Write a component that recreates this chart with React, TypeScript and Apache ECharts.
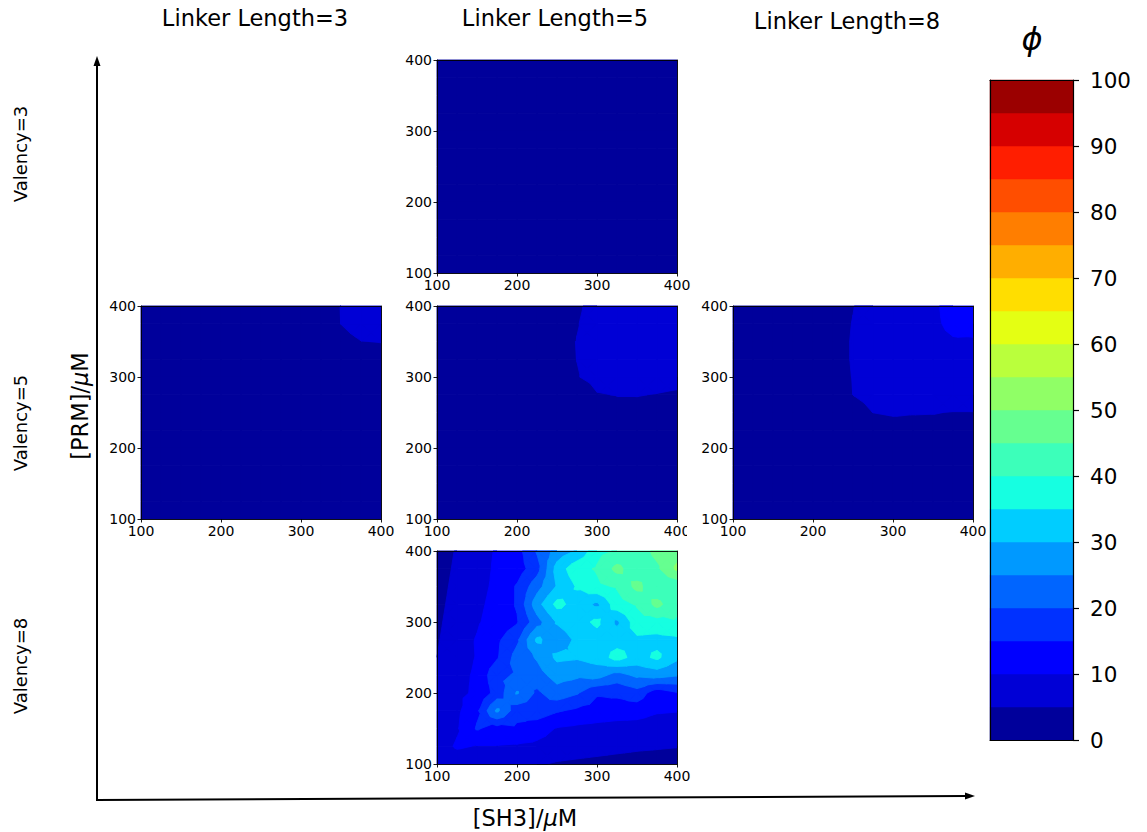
import React, { useEffect, useRef } from "react";
import * as echarts from "echarts";

// grid coordinates (µM) shared by both axes of every panel
const GRID_VALUES = [100, 125, 150, 175, 200, 225, 250, 275, 300, 325, 350, 375, 400];
// contour levels of phi
const PHI_LEVELS = [0, 5, 10, 15, 20, 25, 30, 35, 40, 45, 50, 55, 60, 65, 70, 75, 80, 85, 90, 95, 100];
const COL_TITLES = ["Linker Length=3", "Linker Length=5", "Linker Length=8"];
const ROW_TITLES = ["Valency=3", "Valency=5", "Valency=8"];

// each matrix: rows from [PRM]=400 (first) down to [PRM]=100 (last); columns [SH3]=100..400
const phiV3L5 = [
  [1.6, 1.7, 1.9, 2.0, 2.2, 2.4, 2.6, 2.8, 3.0, 3.2, 3.4, 3.6, 3.8],
  [1.5, 1.6, 1.8, 1.9, 2.1, 2.3, 2.5, 2.7, 2.9, 3.1, 3.3, 3.4, 3.6],
  [1.4, 1.5, 1.7, 1.8, 2.0, 2.2, 2.4, 2.5, 2.7, 2.9, 3.1, 3.2, 3.4],
  [1.3, 1.4, 1.6, 1.7, 1.9, 2.0, 2.2, 2.4, 2.5, 2.7, 2.9, 3.0, 3.1],
  [1.2, 1.3, 1.5, 1.6, 1.7, 1.9, 2.0, 2.2, 2.3, 2.5, 2.6, 2.8, 2.9],
  [1.1, 1.2, 1.4, 1.5, 1.6, 1.7, 1.9, 2.0, 2.1, 2.3, 2.4, 2.5, 2.6],
  [1.0, 1.1, 1.2, 1.3, 1.5, 1.6, 1.7, 1.8, 2.0, 2.1, 2.2, 2.3, 2.4],
  [0.9, 1.0, 1.1, 1.2, 1.3, 1.4, 1.6, 1.7, 1.8, 1.9, 2.0, 2.1, 2.2],
  [0.8, 0.9, 1.0, 1.1, 1.2, 1.3, 1.4, 1.5, 1.6, 1.7, 1.8, 1.9, 2.0],
  [0.7, 0.8, 0.9, 1.0, 1.1, 1.2, 1.3, 1.3, 1.4, 1.5, 1.6, 1.7, 1.7],
  [0.6, 0.7, 0.8, 0.9, 0.9, 1.0, 1.1, 1.2, 1.2, 1.3, 1.4, 1.4, 1.5],
  [0.5, 0.6, 0.7, 0.7, 0.8, 0.9, 0.9, 1.0, 1.1, 1.1, 1.2, 1.2, 1.3],
  [0.4, 0.5, 0.6, 0.6, 0.7, 0.7, 0.8, 0.8, 0.9, 0.9, 1.0, 1.0, 1.1],
];

const phiV5L3 = [
  [0.9, 1.0, 1.2, 1.4, 1.7, 2.0, 2.4, 2.9, 3.4, 4.0, 5.05, 6.2, 7.0],
  [0.8, 1.0, 1.1, 1.3, 1.6, 1.9, 2.3, 2.8, 3.3, 3.9, 5.02, 5.8, 6.4],
  [0.8, 0.9, 1.1, 1.3, 1.5, 1.8, 2.2, 2.6, 3.1, 3.6, 4.4, 4.97, 5.05],
  [0.7, 0.9, 1.0, 1.2, 1.4, 1.7, 2.0, 2.4, 2.9, 3.3, 3.9, 4.2, 4.3],
  [0.7, 0.8, 0.9, 1.1, 1.3, 1.6, 1.9, 2.2, 2.6, 3.0, 3.4, 3.7, 3.8],
  [0.6, 0.7, 0.9, 1.0, 1.2, 1.4, 1.7, 2.0, 2.3, 2.7, 3.0, 3.2, 3.3],
  [0.6, 0.7, 0.8, 0.9, 1.1, 1.3, 1.5, 1.8, 2.1, 2.4, 2.6, 2.8, 2.9],
  [0.5, 0.6, 0.7, 0.8, 1.0, 1.2, 1.4, 1.6, 1.8, 2.1, 2.3, 2.4, 2.5],
  [0.5, 0.5, 0.6, 0.7, 0.9, 1.0, 1.2, 1.4, 1.6, 1.8, 2.0, 2.1, 2.2],
  [0.4, 0.5, 0.5, 0.6, 0.8, 0.9, 1.1, 1.2, 1.4, 1.6, 1.7, 1.8, 1.9],
  [0.4, 0.4, 0.5, 0.6, 0.7, 0.8, 0.9, 1.1, 1.2, 1.3, 1.5, 1.6, 1.6],
  [0.3, 0.4, 0.4, 0.5, 0.6, 0.7, 0.8, 0.9, 1.0, 1.1, 1.2, 1.3, 1.4],
  [0.3, 0.3, 0.4, 0.4, 0.5, 0.6, 0.7, 0.8, 0.9, 1.0, 1.0, 1.1, 1.2],
];

const phiV5L5 = [
  [0.8, 1.0, 1.3, 1.6, 2.0, 2.6, 3.5, 4.7, 5.7, 6.4, 7.0, 7.5, 8.0],
  [0.7, 0.9, 1.2, 1.5, 1.9, 2.5, 3.4, 4.9, 5.8, 6.3, 6.8, 7.3, 7.6],
  [0.6, 0.8, 1.1, 1.4, 1.8, 2.4, 4.4, 5.05, 5.6, 6.1, 6.5, 6.9, 7.2],
  [0.5, 0.7, 1.0, 1.3, 1.7, 2.3, 4.4, 5.02, 5.5, 5.9, 6.2, 6.5, 6.7],
  [0.5, 0.6, 0.9, 1.2, 1.6, 2.2, 3.2, 4.9, 5.6, 5.7, 5.8, 5.6, 5.5],
  [0.4, 0.5, 0.8, 1.1, 1.4, 1.9, 2.6, 3.6, 4.9, 5.05, 5.05, 4.95, 4.8],
  [0.4, 0.5, 0.7, 1.0, 1.3, 1.7, 2.3, 3.0, 3.8, 4.5, 4.6, 4.5, 4.4],
  [0.3, 0.4, 0.6, 0.8, 1.1, 1.5, 2.0, 2.6, 3.2, 3.7, 3.9, 4.0, 4.0],
  [0.3, 0.4, 0.5, 0.7, 1.0, 1.3, 1.7, 2.2, 2.7, 3.1, 3.3, 3.4, 3.5],
  [0.2, 0.3, 0.4, 0.6, 0.8, 1.1, 1.4, 1.8, 2.2, 2.5, 2.7, 2.8, 2.9],
  [0.2, 0.3, 0.4, 0.5, 0.7, 0.9, 1.2, 1.5, 1.8, 2.0, 2.2, 2.3, 2.4],
  [0.1, 0.2, 0.3, 0.4, 0.5, 0.7, 0.9, 1.2, 1.4, 1.6, 1.7, 1.8, 1.9],
  [0.1, 0.1, 0.2, 0.3, 0.4, 0.5, 0.7, 0.9, 1.1, 1.2, 1.3, 1.4, 1.5],
];

const phiV5L8 = [
  [1.2, 1.5, 1.9, 2.4, 3.0, 3.8, 4.9, 6.5, 7.5, 8.4, 9.3, 11.5, 12.5],
  [1.1, 1.4, 1.8, 2.3, 2.9, 3.9, 5.1, 6.4, 7.3, 8.2, 9.2, 11.0, 11.6],
  [1.0, 1.3, 1.7, 2.2, 2.8, 4.0, 5.2, 6.6, 7.2, 8.0, 8.9, 9.6, 9.5],
  [0.9, 1.2, 1.6, 2.1, 2.7, 4.0, 5.2, 6.5, 7.0, 7.6, 8.2, 8.7, 9.0],
  [0.8, 1.1, 1.5, 2.0, 2.6, 3.8, 5.1, 6.3, 6.8, 7.2, 7.6, 7.9, 8.0],
  [0.7, 1.0, 1.3, 1.8, 2.4, 3.4, 5.02, 5.9, 6.2, 6.6, 6.9, 7.0, 7.0],
  [0.6, 0.9, 1.2, 1.6, 2.1, 2.8, 3.7, 5.02, 5.3, 5.15, 5.1, 4.9, 4.9],
  [0.5, 0.8, 1.1, 1.4, 1.9, 2.5, 3.1, 3.6, 3.9, 4.0, 4.1, 4.2, 4.2],
  [0.5, 0.7, 0.9, 1.2, 1.6, 2.1, 2.6, 3.0, 3.3, 3.5, 3.6, 3.7, 3.7],
  [0.4, 0.6, 0.8, 1.0, 1.3, 1.7, 2.1, 2.5, 2.8, 3.0, 3.1, 3.2, 3.2],
  [0.3, 0.5, 0.6, 0.8, 1.1, 1.4, 1.7, 2.0, 2.3, 2.5, 2.6, 2.7, 2.7],
  [0.3, 0.4, 0.5, 0.7, 0.9, 1.1, 1.4, 1.6, 1.8, 2.0, 2.1, 2.2, 2.2],
  [0.2, 0.3, 0.4, 0.5, 0.7, 0.9, 1.1, 1.3, 1.5, 1.6, 1.7, 1.8, 1.8],
];

const phiV8L5 = [
  [2.0, 5.5, 8.0, 10.5, 13.0, 20.5, 27.0, 30.5, 38.5, 40.5, 42.0, 46.5, 48.0],
  [2.5, 6.0, 8.0, 10.8, 12.5, 18.0, 32.0, 38.5, 40.5, 46.5, 41.5, 44.0, 51.0],
  [3.0, 6.5, 8.5, 11.0, 15.5, 23.0, 30.5, 35.5, 39.0, 40.5, 46.5, 41.0, 41.0],
  [3.5, 7.0, 9.0, 11.5, 15.5, 28.0, 36.5, 33.0, 29.0, 38.0, 40.5, 46.5, 41.0],
  [4.0, 7.5, 9.5, 12.0, 14.5, 23.0, 30.5, 33.0, 36.0, 29.0, 38.0, 38.0, 39.5],
  [4.5, 8.0, 10.3, 14.0, 19.0, 31.0, 27.0, 31.0, 33.0, 33.0, 34.0, 33.5, 34.0],
  [5.02, 8.5, 10.2, 14.5, 22.0, 25.5, 31.0, 30.5, 32.0, 37.0, 33.0, 36.0, 31.0],
  [5.5, 9.0, 10.5, 19.0, 20.5, 23.0, 27.0, 26.0, 27.0, 23.0, 26.0, 27.0, 25.5],
  [6.0, 9.0, 10.7, 17.0, 25.5, 19.0, 23.0, 20.5, 15.5, 16.0, 18.0, 12.0, 14.5],
  [6.5, 9.0, 14.0, 26.0, 17.0, 18.0, 15.5, 14.0, 13.0, 12.5, 12.0, 10.5, 10.2],
  [7.0, 9.5, 15.5, 13.0, 14.0, 12.0, 9.7, 9.0, 8.5, 8.0, 8.0, 7.5, 7.5],
  [8.0, 10.5, 9.8, 9.8, 9.5, 9.0, 8.0, 7.5, 7.0, 6.5, 6.0, 5.7, 5.3],
  [7.0, 7.5, 7.5, 7.0, 6.5, 5.5, 4.5, 4.0, 3.5, 3.0, 2.5, 2.0, 1.5],
];

// ---------- helpers ----------
function jet(t: number): string {
  const r = [[0, 0], [0.35, 0], [0.66, 1], [0.89, 1], [1, 0.5]];
  const g = [[0, 0], [0.125, 0], [0.375, 1], [0.64, 1], [0.91, 0], [1, 0]];
  const b = [[0, 0.5], [0.11, 1], [0.34, 1], [0.65, 0], [1, 0]];
  const q = Math.min(Math.floor(t * 256), 255) / 255;
  const seg = (pts: number[][]) => {
    for (let k = 0; k < pts.length - 1; k++) {
      if (q <= pts[k + 1][0]) {
        const f = (q - pts[k][0]) / (pts[k + 1][0] - pts[k][0]);
        return pts[k][1] + f * (pts[k + 1][1] - pts[k][1]);
      }
    }
    return pts[pts.length - 1][1];
  };
  const to = (v: number) => Math.round(v * 255);
  return `rgb(${to(seg(r))},${to(seg(g))},${to(seg(b))})`;
}

const lo0 = PHI_LEVELS[0];
const hiN = PHI_LEVELS[PHI_LEVELS.length - 1];
const BAND_COLORS = PHI_LEVELS.slice(0, -1).map((l, k) =>
  jet(((l + PHI_LEVELS[k + 1]) / 2 - lo0) / (hiN - lo0))
);

function clipAbove(poly: number[][], level: number): number[][] {
  const out: number[][] = [];
  for (let k = 0; k < poly.length; k++) {
    const a = poly[k];
    const b = poly[(k + 1) % poly.length];
    const ai = a[2] >= level;
    const bi = b[2] >= level;
    if (ai) out.push(a);
    if (ai !== bi) {
      const t = (level - a[2]) / (b[2] - a[2]);
      out.push([a[0] + t * (b[0] - a[0]), a[1] + t * (b[1] - a[1]), level]);
    }
  }
  return out;
}

// one item per (level, cell) whose region phi >= level is not empty,
// sorted by level so every band is painted over the lower ones
function buildCells(rowsTopDown: number[][]) {
  const n = GRID_VALUES.length;
  const val = (i: number, j: number) => rowsTopDown[n - 1 - j][i];
  const out: number[][] = [];
  for (let k = 0; k < PHI_LEVELS.length - 1; k++) {
    for (let j = 0; j < n - 1; j++) {
      for (let i = 0; i < n - 1; i++) {
        const v = [val(i, j), val(i + 1, j), val(i + 1, j + 1), val(i, j + 1)];
        if (Math.max(...v) < PHI_LEVELS[k]) continue;
        if (k + 1 < PHI_LEVELS.length - 1 && Math.min(...v) >= PHI_LEVELS[k + 1]) continue;
        out.push([GRID_VALUES[i], GRID_VALUES[j], GRID_VALUES[i + 1], GRID_VALUES[j + 1], v[0], v[1], v[2], v[3], k]);
      }
    }
  }
  return out;
}

function polyArea(pts: number[][]) {
  let area = 0;
  for (let m = 0; m < pts.length; m++) {
    const a = pts[m], b = pts[(m + 1) % pts.length];
    area += a[0] * b[1] - b[0] * a[1];
  }
  return Math.abs(area) / 2;
}

// region phi >= level inside one grid cell; the cell is split into four
// triangles around its centre (mean value) to resolve saddles
function contourItem(_params: any, api: any) {
  const x0 = api.value(0), y0 = api.value(1), x1 = api.value(2), y1 = api.value(3);
  const k = api.value(8);
  const level = PHI_LEVELS[k];
  const A = [x0, y0, api.value(4)];
  const B = [x1, y0, api.value(5)];
  const C = [x1, y1, api.value(6)];
  const D = [x0, y1, api.value(7)];
  const color = BAND_COLORS[k];
  const style = { fill: color, stroke: color, lineWidth: 0.9 };
  const vmin = Math.min(A[2], B[2], C[2], D[2]);
  if (vmin >= level) {
    return {
      type: "polygon",
      shape: { points: [A, B, C, D].map((p) => api.coord([p[0], p[1]])) },
      style,
    };
  }
  const M = [(x0 + x1) / 2, (y0 + y1) / 2, (A[2] + B[2] + C[2] + D[2]) / 4];
  const tris = [[A, B, M], [B, C, M], [C, D, M], [D, A, M]];
  const children: any[] = [];
  for (const tri of tris) {
    const poly = clipAbove(tri, level);
    if (poly.length < 3) continue;
    const pts = poly.map((p) => api.coord([p[0], p[1]]));
    if (polyArea(pts) < 0.05) continue;
    children.push({ type: "polygon", shape: { points: pts }, style });
  }
  return { type: "group", children };
}

function colorbarItem(_params: any, api: any) {
  const lo = api.value(0), hi = api.value(1), k = api.value(2);
  const p0 = api.coord([0, hi]);
  const p1 = api.coord([1, lo]);
  return {
    type: "rect",
    shape: { x: p0[0], y: p0[1], width: p1[0] - p0[0], height: p1[1] - p0[1] },
    style: { fill: BAND_COLORS[k], stroke: BAND_COLORS[k], lineWidth: 0.5 },
  };
}

const FONT = "DejaVu Sans";

// panel layout (pixels)
const PANELS = [
  { rows: phiV3L5, left: 437, top: 60 },
  { rows: phiV5L3, left: 141, top: 306 },
  { rows: phiV5L5, left: 437, top: 306 },
  { rows: phiV5L8, left: 733, top: 306 },
  { rows: phiV8L5, left: 437, top: 551 },
];
const PW = 240;
const PH = 213;

function buildOption() {
  const grids: any[] = [];
  const xAxes: any[] = [];
  const yAxes: any[] = [];
  const series: any[] = [];
  const lineStyle = { color: "#000", width: 0.9 };
  PANELS.forEach((p, k) => {
    grids.push({ left: p.left, top: p.top, width: PW, height: PH, containLabel: false });
    const base = {
      type: "value", gridIndex: k, min: GRID_VALUES[0], max: GRID_VALUES[GRID_VALUES.length - 1],
      interval: 100, z: 5, splitLine: { show: false },
      axisLine: { show: true, onZero: false, lineStyle },
    };
    xAxes.push({
      ...base, position: "bottom",
      axisTick: { show: true, length: 3.5, lineStyle },
      axisLabel: { color: "#000", fontSize: 14, fontFamily: FONT, margin: 5 },
    });
    xAxes.push({ ...base, position: "top", axisTick: { show: false }, axisLabel: { show: false } });
    yAxes.push({
      ...base, position: "left",
      axisTick: { show: true, length: 3.5, lineStyle },
      axisLabel: { color: "#000", fontSize: 14, fontFamily: FONT, margin: 5 },
    });
    yAxes.push({ ...base, position: "right", axisTick: { show: false }, axisLabel: { show: false } });
    series.push({
      type: "custom", xAxisIndex: 2 * k, yAxisIndex: 2 * k, z: 1, silent: true,
      renderItem: contourItem, data: buildCells(p.rows), encode: { x: 0, y: 1 },
    });
  });
  // colorbar
  const cb = PANELS.length;
  grids.push({ left: 990, top: 80, width: 83, height: 660 });
  const cbLine = { color: "#000", width: 1.2 };
  xAxes.push({ type: "value", gridIndex: cb, min: 0, max: 1, position: "bottom", z: 5,
    axisLine: { show: true, onZero: false, lineStyle: cbLine }, axisTick: { show: false },
    axisLabel: { show: false }, splitLine: { show: false } });
  xAxes.push({ type: "value", gridIndex: cb, min: 0, max: 1, position: "top", z: 5,
    axisLine: { show: true, onZero: false, lineStyle: cbLine }, axisTick: { show: false },
    axisLabel: { show: false }, splitLine: { show: false } });
  yAxes.push({ type: "value", gridIndex: cb, min: lo0, max: hiN, interval: 10, position: "right", z: 5,
    axisLine: { show: true, onZero: false, lineStyle: cbLine },
    axisTick: { show: true, length: 6, lineStyle: cbLine },
    axisLabel: { color: "#000", fontSize: 21.5, fontFamily: FONT, margin: 17 },
    splitLine: { show: false } });
  yAxes.push({ type: "value", gridIndex: cb, min: lo0, max: hiN, position: "left", z: 5,
    axisLine: { show: true, onZero: false, lineStyle: cbLine }, axisTick: { show: false },
    axisLabel: { show: false }, splitLine: { show: false } });
  series.push({
    type: "custom", xAxisIndex: 2 * cb, yAxisIndex: 2 * cb, z: 1, silent: true,
    renderItem: colorbarItem,
    data: PHI_LEVELS.slice(0, -1).map((l, k) => [l, PHI_LEVELS[k + 1], k]),
    encode: { y: [0, 1] },
  });

  const txt = (text: string, x: number, y: number, size: number, rot = 0, extra: any = {}) => ({
    type: "text", x, y, rotation: rot, z: 10,
    style: { text, fontSize: size, fontFamily: FONT, fill: "#000", align: "center", verticalAlign: "middle", ...extra },
  });
  const italicMu = (size: number) => ({ rich: { i: { fontStyle: "italic", fontSize: size, fontFamily: FONT } } });

  const graphic: any[] = [
    txt(COL_TITLES[0], 255, 18, 22.5),
    txt(COL_TITLES[1], 555, 18, 22.5),
    txt(COL_TITLES[2], 847, 21, 22.5),
    txt(ROW_TITLES[0], 20, 154, 18, Math.PI / 2),
    txt(ROW_TITLES[1], 20, 423, 18, Math.PI / 2),
    txt(ROW_TITLES[2], 20, 666, 18, Math.PI / 2),
    txt("[PRM]/{i|μ}M", 80, 406, 22.5, Math.PI / 2, italicMu(22.5)),
    txt("[SH3]/{i|μ}M", 525, 818, 22.5, 0, italicMu(22.5)),
    txt("ϕ", 1032, 39, 32, 0, { fontStyle: "italic" }),
    // white patch that hides part of the last tick label, as in the source figure
    { type: "rect", z: 10, shape: { x: 687, y: 523, width: 14, height: 18 }, style: { fill: "#fff" } },
    // arrows
    { type: "line", z: 10, shape: { x1: 97, y1: 800, x2: 97, y2: 64 }, style: { stroke: "#000", lineWidth: 2 } },
    { type: "polygon", z: 10, shape: { points: [[97, 56], [93.5, 66], [100.5, 66]] }, style: { fill: "#000" } },
    { type: "line", z: 10, shape: { x1: 96, y1: 800, x2: 966, y2: 796 }, style: { stroke: "#000", lineWidth: 2 } },
    { type: "polygon", z: 10, shape: { points: [[975, 796], [965, 792.5], [965, 799.5]] }, style: { fill: "#000" } },
  ];

  return {
    animation: false,
    backgroundColor: "#fff",
    grid: grids,
    xAxis: xAxes,
    yAxis: yAxes,
    series,
    graphic,
  };
}

export default function App() {
  const ref = useRef<HTMLDivElement>(null);
  useEffect(() => {
    if (!ref.current) return;
    const chart = echarts.init(ref.current, undefined, { renderer: "svg" });
    chart.setOption(buildOption() as any);
    return () => chart.dispose();
  }, []);
  return (
    <div
      ref={ref}
      style={{ position: "absolute", left: 0, top: 0, width: 1147, height: 832 }}
    />
  );
}
